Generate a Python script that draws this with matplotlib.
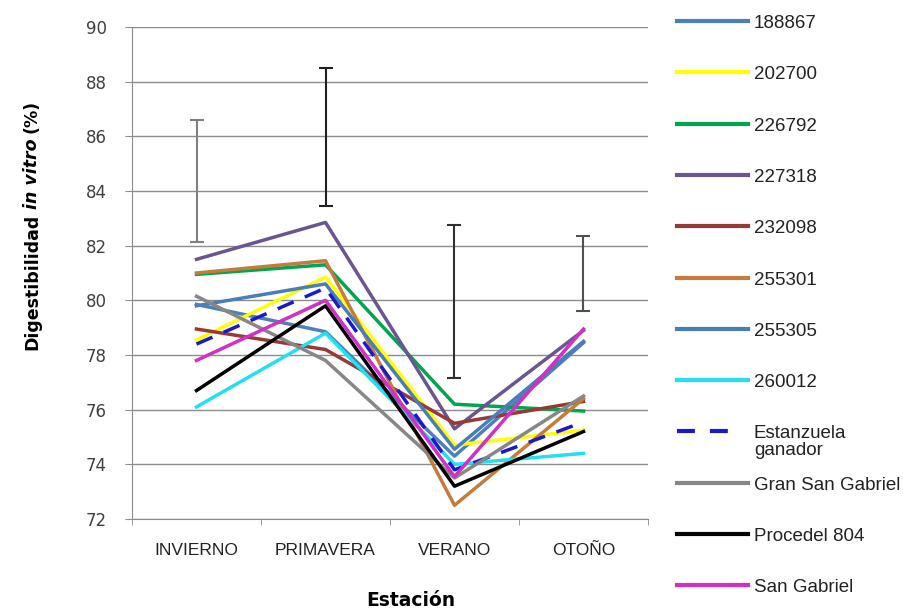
import matplotlib
matplotlib.use('Agg')
import matplotlib.pyplot as plt
from matplotlib.lines import Line2D

seasons = ['INVIERNO', 'PRIMAVERA', 'VERANO', 'OTOÑO']

# digestibilidad in vitro (%) de cada material por estación
d188867 = [79.85, 78.85, 74.3, 78.45]
d202700 = [78.55, 80.85, 74.7, 75.25]
d226792 = [80.95, 81.3, 76.2, 75.95]
d227318 = [81.5, 82.85, 75.3, 78.9]
d232098 = [78.95, 78.2, 75.5, 76.3]
d255301 = [81.0, 81.45, 72.5, 76.4]
d255305 = [79.8, 80.6, 74.55, 78.5]
d260012 = [76.1, 78.8, 74.0, 74.4]
d_estanzuela = [78.4, 80.45, 73.8, 75.55]
d_gran_sg = [80.15, 77.8, 73.5, 76.5]
d_procedel = [76.7, 79.8, 73.2, 75.2]
d_san_gabriel = [77.8, 80.0, 73.55, 78.95]

names = ['188867', '202700', '226792', '227318', '232098', '255301',
         '255305', '260012', 'Estanzuela\nganador', 'Gran San Gabriel',
         'Procedel 804', 'San Gabriel']
series = [d188867, d202700, d226792, d227318, d232098, d255301,
          d255305, d260012, d_estanzuela, d_gran_sg, d_procedel, d_san_gabriel]
colors = ['#4f7fbb', '#ffff00', '#00a64f', '#6a5590', '#953a36', '#c47c3e',
          '#4a7eb8', '#22e0ee', '#1a1acc', '#878787', '#000000', '#d030c4']

# rango de la barra de error por estación
err_lo = [82.15, 83.45, 77.15, 79.6]
err_hi = [86.6, 88.5, 82.75, 82.35]
err_colors = ['#808080', '#202020', '#303030', '#505050']

W, H = 904, 613
fig = plt.figure(figsize=(W / 100, H / 100), dpi=100)
ax = fig.add_axes([132 / W, 1 - 519 / H, (648 - 132) / W, (519 - 27) / H])

x = list(range(len(seasons)))
for name, vals, c in zip(names, series, colors):
    if name.startswith('Estanzuela'):
        ax.plot(x, vals, color=c, lw=2.5, dashes=(5, 3.5), solid_capstyle='butt', zorder=3)
    else:
        ax.plot(x, vals, color=c, lw=2.5, zorder=3)

for i in range(len(seasons)):
    mid = (err_lo[i] + err_hi[i]) / 2
    half = (err_hi[i] - err_lo[i]) / 2
    ax.errorbar(x[i], mid, yerr=half, fmt='none', ecolor=err_colors[i],
                elinewidth=1.5, capsize=4.8, capthick=1.5, zorder=4)

ax.set_xlim(-0.5, len(seasons) - 0.5)
ax.set_ylim(72, 90)
ax.set_yticks(range(72, 91, 2))
ax.set_xticks(x)
ax.set_xticklabels(seasons, fontfamily='Liberation Sans', fontsize=12.5, color='#222222')
ax.set_xticks([i - 0.5 for i in range(len(seasons) + 1)], minor=True)
ax.tick_params(axis='x', which='major', length=0, pad=17)
ax.tick_params(axis='x', which='minor', length=4, color='#8c8c8c')
ax.tick_params(axis='y', length=5, color='#8c8c8c', pad=13, labelsize=12, labelcolor='#404040')
ax.grid(axis='y', color='#8c8c8c', lw=1.0)
ax.set_axisbelow(True)
for side in ['top', 'right']:
    ax.spines[side].set_visible(False)
for side in ['left', 'bottom']:
    ax.spines[side].set_color('#8c8c8c')

fig.text(411 / W, 1 - 600 / H, 'Estación', ha='center', va='center',
         fontsize=13.5, fontweight='bold')

# título del eje y con "in vitro" en cursiva
renderer = fig.canvas.get_renderer()
ypos = 1 - 350 / H
for part, style in [('Digestibilidad', 'normal'), ('in vitro', 'italic'), ('(%)', 'normal')]:
    t = fig.text(37 / W, ypos, part, rotation=90, rotation_mode='anchor',
                 ha='left', va='baseline', fontsize=12.5, fontweight='bold', fontstyle=style)
    bb = t.get_window_extent(renderer=renderer)
    ypos = (bb.y1 + 5) / H

# leyenda a la derecha
for i, (name, c) in enumerate(zip(names, colors)):
    yc = 1 - (21 + 51.3 * i) / H
    if name.startswith('Estanzuela'):
        fig.add_artist(Line2D([677 / W, 729 / W], [yc, yc], color=c, lw=3,
                              dashes=(4.3, 3.6), solid_capstyle='butt'))
    else:
        fig.add_artist(Line2D([677 / W, 748 / W], [yc, yc], color=c, lw=3))
    fig.text(754 / W, yc + 6 / H, name, ha='left', va='top', fontsize=13.5,
             fontfamily='Liberation Sans', color='#222222', linespacing=1.0)

fig.savefig('out.png', dpi=100)
